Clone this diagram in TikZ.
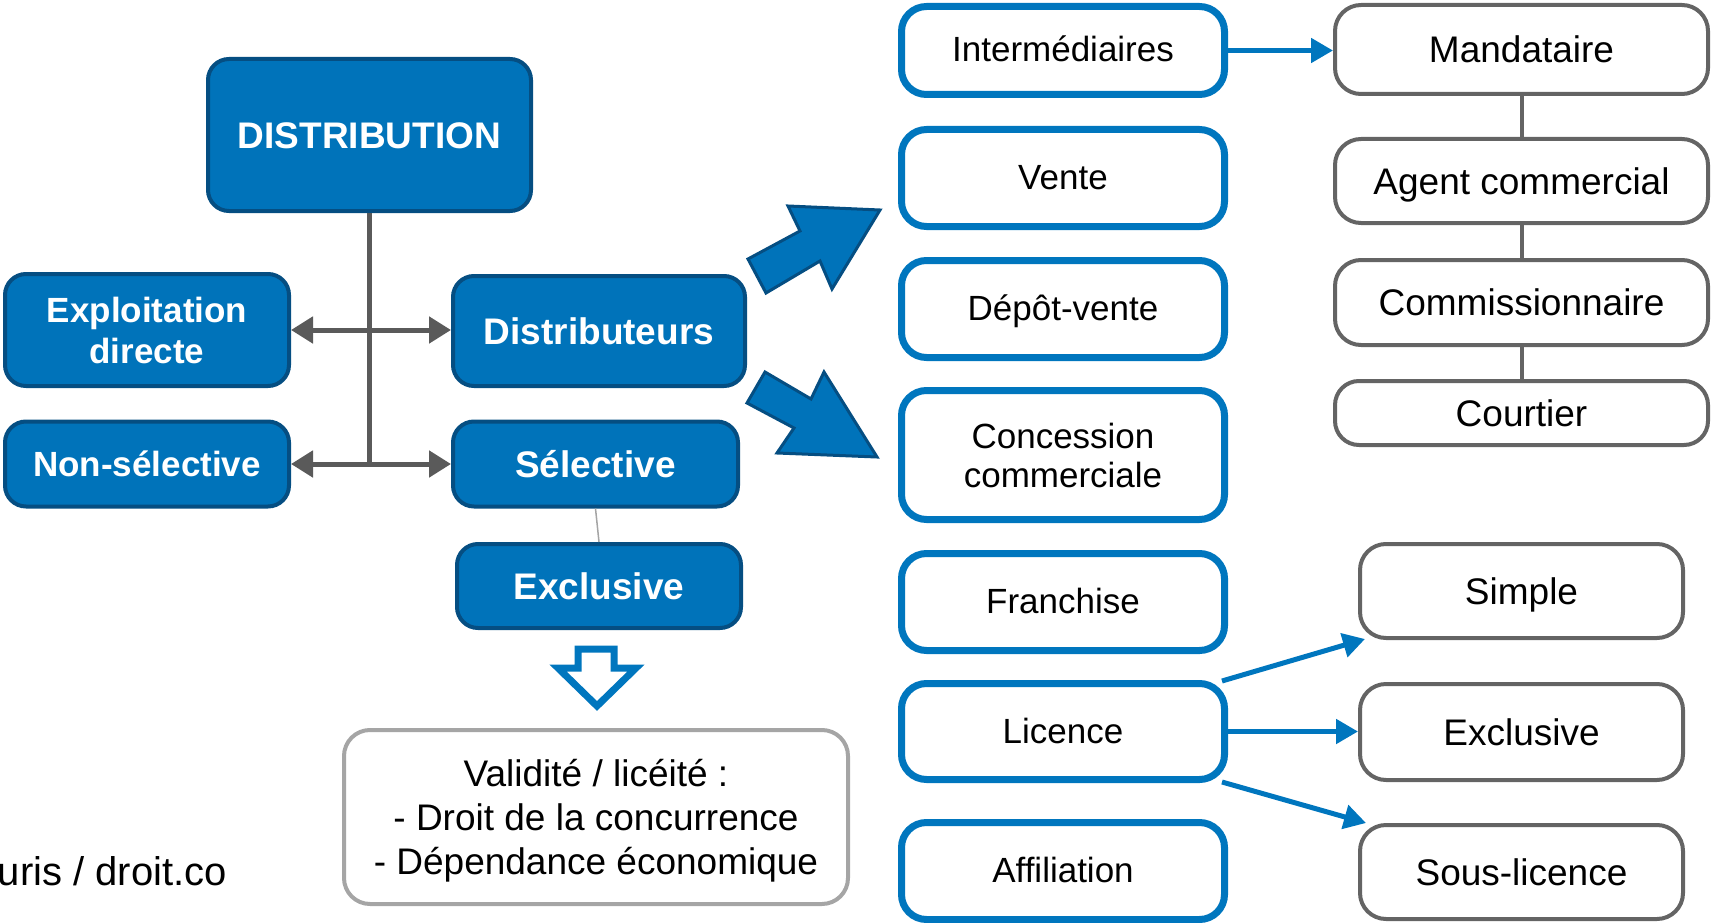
\documentclass[tikz,border=0pt]{standalone}
\usepackage{fontspec}
\setmainfont{Liberation Sans}
\usetikzlibrary{arrows.meta,calc}
\definecolor{bfill}{RGB}{0,115,186}
\definecolor{bdark}{RGB}{5,78,130}
\definecolor{bline}{RGB}{0,118,190}
\definecolor{gline}{RGB}{100,100,100}
\definecolor{garr}{RGB}{90,90,90}
\definecolor{glight}{RGB}{165,165,165}
\begin{document}
\begin{tikzpicture}[x=1pt,y=-1pt,
  bluebox/.style={draw=bdark, line width=4pt, fill=bfill, rounded corners=21pt, text=white, align=center, inner sep=0pt,
    font=\bfseries\fontsize{37}{41}\selectfont, text height=26.5pt, text depth=0pt},
  outbox/.style={draw=bline, line width=7pt, fill=white, rounded corners=25pt, align=center, inner sep=0pt,
    font=\fontsize{35}{39}\selectfont, text height=23pt, text depth=0pt, minimum width=323pt},
  graybox/.style={draw=gline, line width=4pt, fill=white, rounded corners=26pt, align=center, inner sep=0pt,
    font=\fontsize{37}{43}\selectfont, text height=26.5pt, text depth=0pt},
  notebox/.style={draw=glight, line width=4pt, fill=white, rounded corners=26pt, inner sep=0pt},
  notetext/.style={align=center, inner sep=0pt, font=\fontsize{37}{44}\selectfont},
  garrow/.style={draw=garr, line width=5pt, {Triangle[length=22pt,width=26pt]}-{Triangle[length=22pt,width=26pt]}},
  gconn/.style={draw=garr, line width=5pt},
  rconn/.style={draw=gline, line width=4pt},
  barrow/.style={draw=bline, line width=5pt, -{Triangle[length=22pt,width=24pt]}},
  bigarrow/.style={fill=bfill, draw=bdark, line width=3pt, line join=miter},
  hollowarrow/.style={draw=bline, fill=white, line width=7pt, line join=miter}
]
\useasboundingbox (0,0) rectangle (1713,923);

% left part
\node[bluebox, minimum width=323pt, minimum height=152pt] (dist) at (369.5,135) {DISTRIBUTION};
\node[bluebox, font=\bfseries\fontsize{35}{41}\selectfont, text height={}, text depth={}, minimum width=284pt, minimum height=112pt] (expl) at (147,330) {Exploitation\\directe};
\node[bluebox, minimum width=292pt, minimum height=110pt] (distr) at (599,331) {Distributeurs};
\node[bluebox, font=\bfseries\fontsize{35}{41}\selectfont, text height=25pt, minimum width=284pt, minimum height=85pt] (nonsel) at (147,464) {Non-sélective};
\node[bluebox, minimum width=285pt, minimum height=85pt] (sel) at (595.5,464) {Sélective};
\node[bluebox, minimum width=284pt, minimum height=84pt] (excl) at (599,586) {Exclusive};

\draw[gconn] (dist.south) -- (dist.south |- nonsel.east);
\draw[garrow] (expl.east) -- (expl.east -| distr.west);
\draw[garrow] (nonsel.east) -- (nonsel.east -| sel.west);
\draw[draw=glight, line width=1.5pt] (sel.south) -- (excl.north);

\draw[hollowarrow] (578,649) -- (614,649) -- (614,668) -- (636,668) -- (597,706) -- (558,668) -- (578,668) -- cycle;

\node[notebox, minimum width=504pt, minimum height=174pt] (valid) at (596,817) {};
\node[notetext] (validtxt) at ($(valid.center)+(0,3.5)$) {Validité / licéité :\\- Droit de la concurrence\\- Dépendance économique};

\node[anchor=base east, font=\fontsize{40}{46}\selectfont, inner sep=0pt] (src) at (227,885) {uris / droit.co};

% block arrows
\draw[bigarrow] (748,259) -- (800,231) -- (788,206) -- (880,210) -- (832,289) -- (820,261) -- (766,293) -- cycle;
\draw[bigarrow] (765,372) -- (811,399) -- (824,372) -- (877,457) -- (777,453) -- (794,428) -- (747,403) -- cycle;

% middle column
\node[outbox, minimum height=88pt] (inter) at (1063,50.5) {Intermédiaires};
\node[outbox, minimum height=97pt] (vente) at (1063,178) {Vente};
\node[outbox, minimum height=97pt] (depot) at (1063,309) {Dépôt-vente};
\node[outbox, minimum height=129pt, text height={}, text depth={}] (conc) at (1063,455) {Concession\\commerciale};
\node[outbox, minimum height=97pt] (fran) at (1063,602) {Franchise};
\node[outbox, minimum height=96pt] (lic) at (1063,731.5) {Licence};
\node[outbox, minimum height=97pt] (aff) at (1063,871) {Affiliation};

% right column
\node[graybox, minimum width=373pt, minimum height=89pt] (mand) at (1521.5,49.5) {Mandataire};
\node[graybox, minimum width=373pt, minimum height=84pt] (agent) at (1521.5,181) {Agent commercial};
\node[graybox, minimum width=373pt, minimum height=85pt] (comm) at (1521.5,302.5) {Commissionnaire};
\node[graybox, minimum width=373pt, minimum height=64pt, rounded corners=24pt] (court) at (1521.5,413) {Courtier};
\node[graybox, minimum width=323pt, minimum height=94pt] (simple) at (1521.5,591) {Simple};
\node[graybox, minimum width=323pt, minimum height=96pt] (lexcl) at (1521.5,732) {Exclusive};
\node[graybox, minimum width=323pt, minimum height=94pt] (sous) at (1521.5,872) {Sous-licence};

\draw[rconn] (mand.south) -- (agent.north);
\draw[rconn] (agent.south) -- (comm.north);
\draw[rconn] (comm.south) -- (court.north);

\draw[barrow] (inter.east) -- (inter.east -| mand.west);
\draw[barrow] (lic.east) -- (lic.east -| lexcl.west);
\draw[barrow] ($(lic.north east)+(-6,1)$) -- ($(simple.south west)+(7,-1)$);
\draw[barrow] ($(lic.south east)+(-6,-1)$) -- ($(sous.north west)+(8,0)$);
\end{tikzpicture}
\end{document}
